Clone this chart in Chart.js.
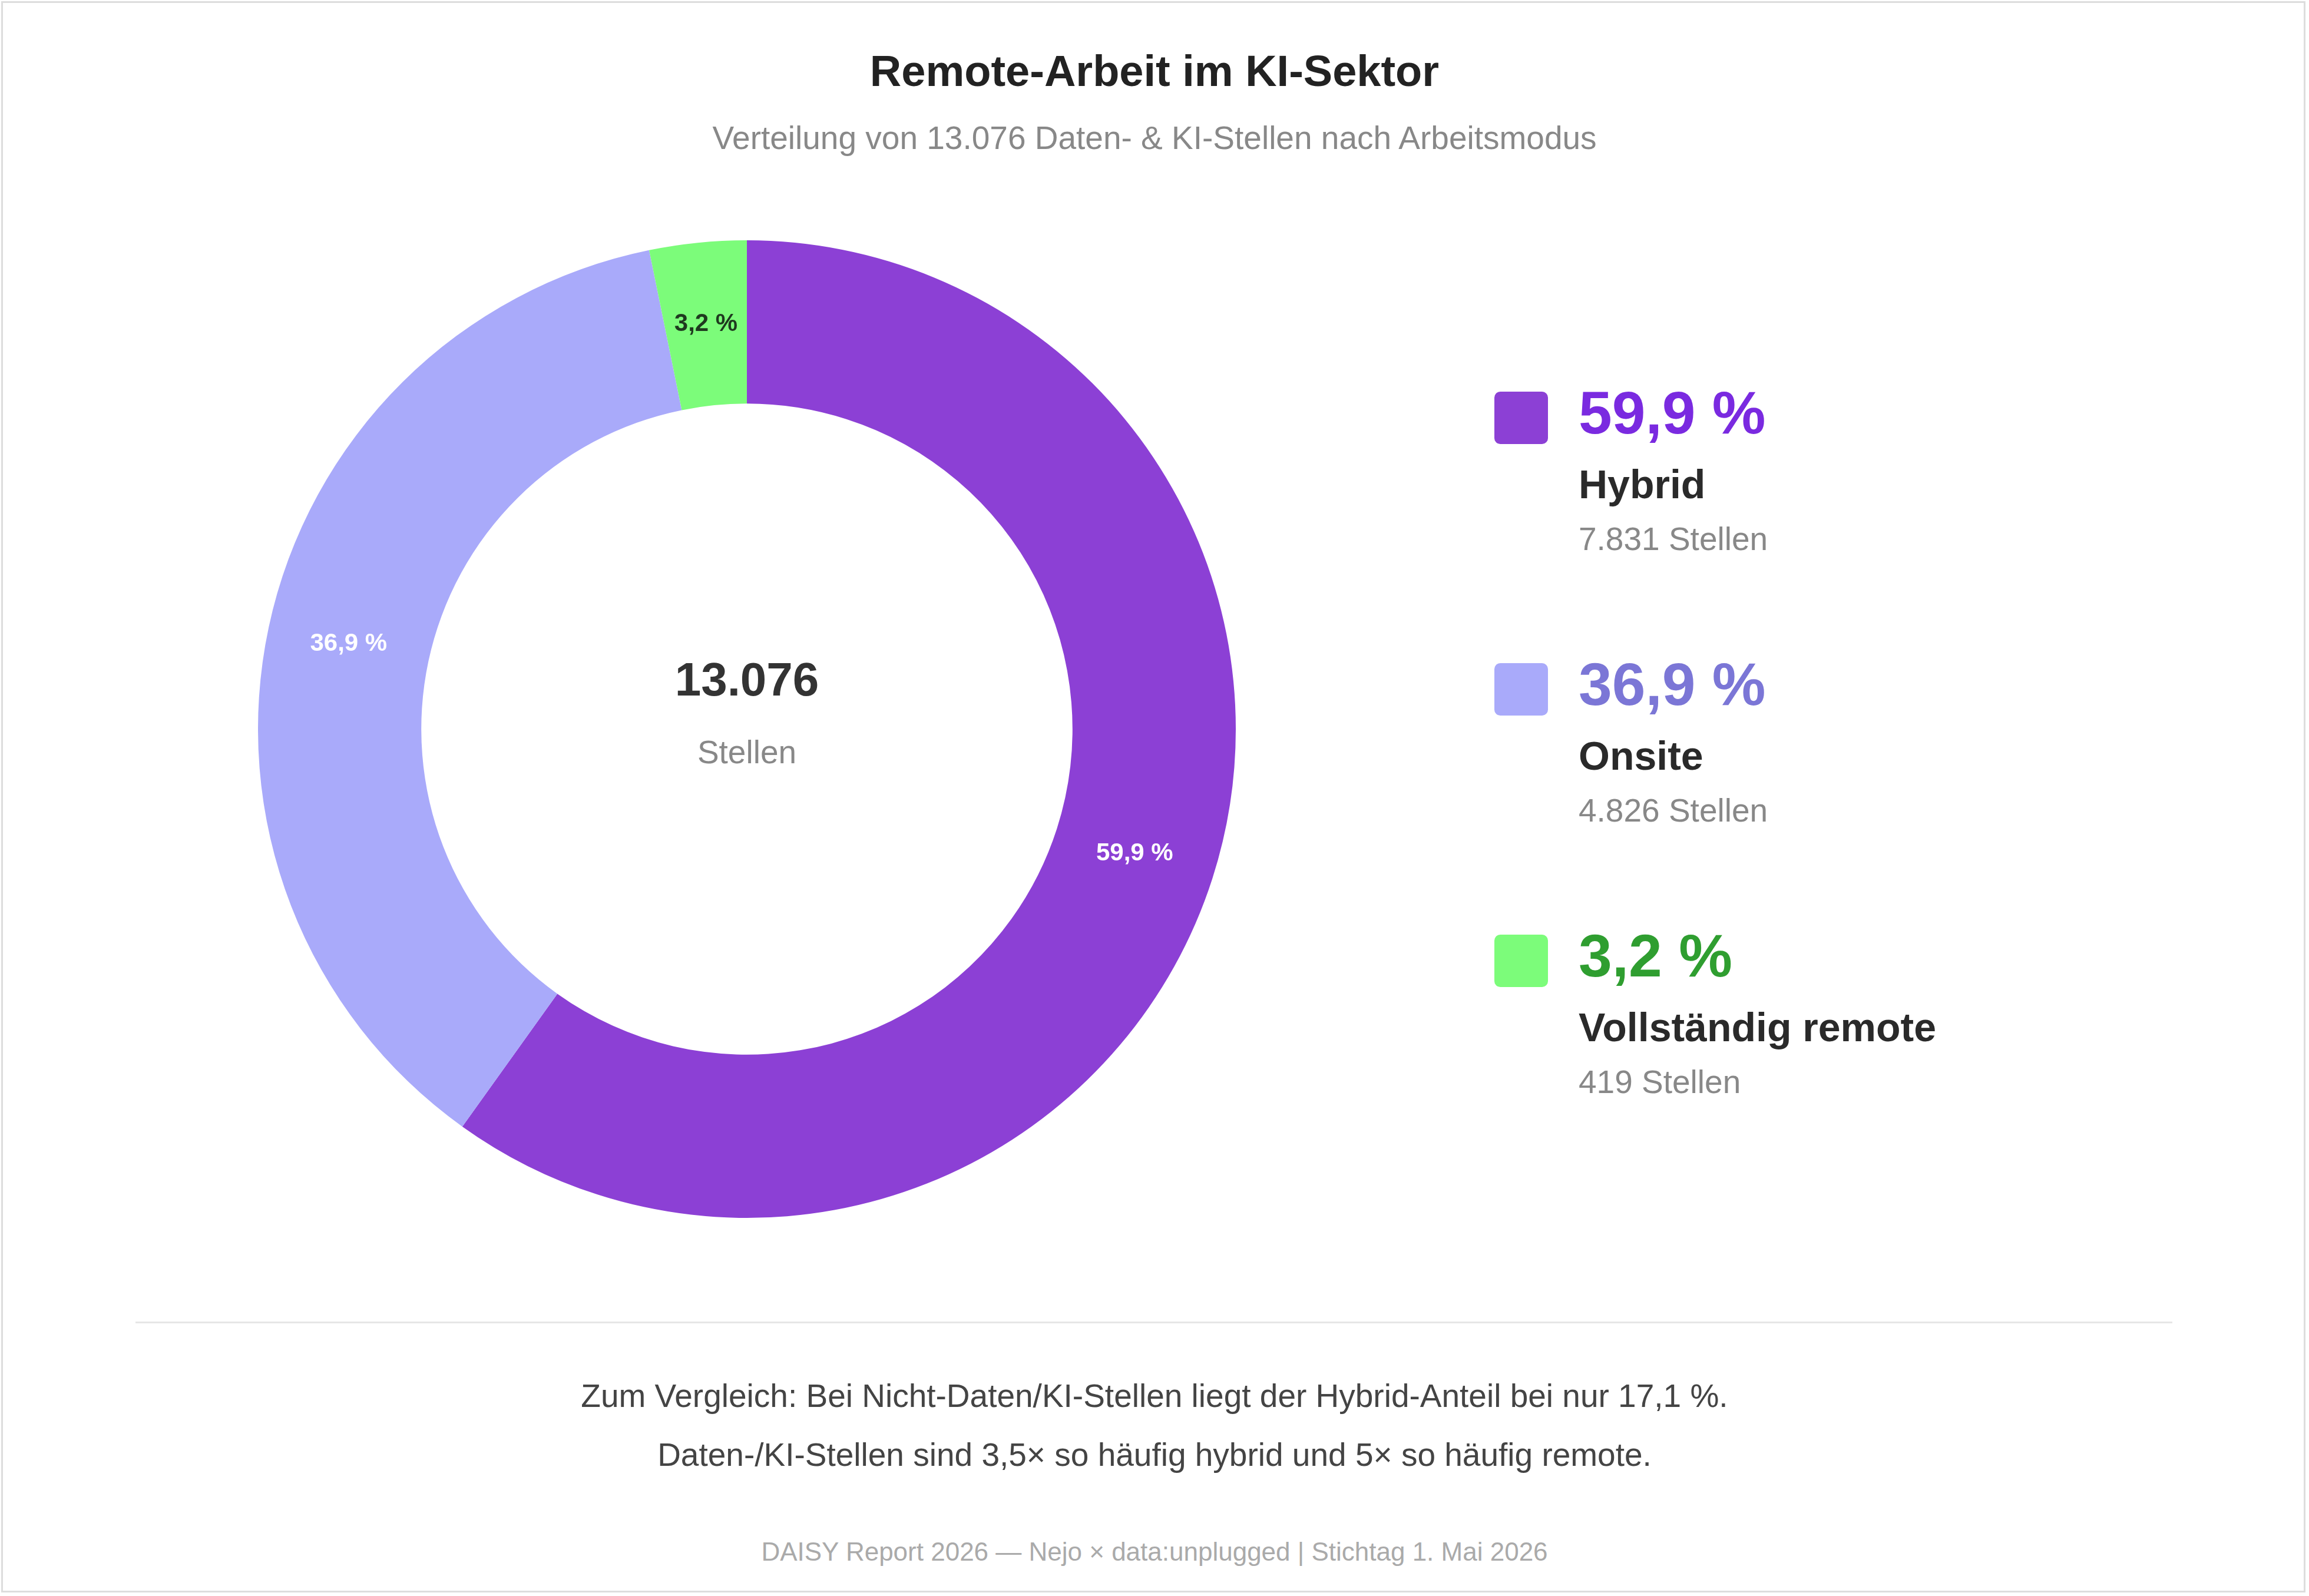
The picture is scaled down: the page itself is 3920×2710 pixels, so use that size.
<!DOCTYPE html>
<html><head><meta charset="utf-8">
<script src="https://cdn.jsdelivr.net/npm/chart.js@4"></script>
<style>
body{margin:0;width:3920px;height:2710px;background:#fff;font-family:"Liberation Sans",Arial,sans-serif;position:relative;overflow:hidden}
#frame{position:absolute;left:2px;top:2px;width:3912px;height:2702px;border:3px solid #ddd;box-sizing:border-box}
.t{position:absolute;white-space:nowrap}
#wrap{position:absolute;left:438px;top:408px;width:1660px;height:1660px}
.sq{position:absolute;width:91px;height:89px;border-radius:10px}
</style></head><body>
<div id="frame"></div>
<div class="t" style="left:0;width:3920px;text-align:center;top:78px;font-size:74px;font-weight:bold;color:#222">Remote-Arbeit im KI-Sektor</div>
<div class="t" style="left:0;width:3920px;text-align:center;top:202px;font-size:55px;color:#888">Verteilung von 13.076 Daten- &amp; KI-Stellen nach Arbeitsmodus</div>
<div id="wrap"><canvas id="c"></canvas></div>
<div class="t" style="left:968px;width:600px;text-align:center;top:1108px;font-size:80px;font-weight:bold;color:#333">13.076</div>
<div class="t" style="left:968px;width:600px;text-align:center;top:1245px;font-size:55px;color:#888">Stellen</div>
<div id="legend"></div>
<div style="position:absolute;left:230px;top:2244px;width:3458px;height:3px;background:#e6e6e6"></div>
<div class="t" style="left:0;width:3920px;text-align:center;top:2338px;font-size:55px;color:#444">Zum Vergleich: Bei Nicht-Daten/KI-Stellen liegt der Hybrid-Anteil bei nur 17,1 %.</div>
<div class="t" style="left:0;width:3920px;text-align:center;top:2438px;font-size:55px;color:#444">Daten-/KI-Stellen sind 3,5× so häufig hybrid und 5× so häufig remote.</div>
<div class="t" style="left:0;width:3920px;text-align:center;top:2610px;font-size:44px;color:#aaa">DAISY Report 2026 — Nejo × data:unplugged | Stichtag 1. Mai 2026</div>
<script>
const categories=["Hybrid","Onsite","Vollständig remote"];
const counts=[7831,4826,419];
const percents=["59,9 %","36,9 %","3,2 %"];
const countLabels=["7.831 Stellen","4.826 Stellen","419 Stellen"];
const colors=["#8c40d5","#a9aafa","#7cfc7a"];
const pctColors=["#7a2ae0","#7b76d6","#2f9e30"];
const labelColors=["#ffffff","#ffffff","#1f3a1f"];

let lg='';
categories.forEach((c,i)=>{const y=665+i*461;
lg+=`<div class="sq" style="left:2537px;top:${y}px;background:${colors[i]}"></div>
<div class="t" style="left:2680px;top:${y-22}px;font-size:102px;font-weight:bold;color:${pctColors[i]}">${percents[i]}</div>
<div class="t" style="left:2680px;top:${y+118}px;font-size:68px;font-weight:bold;color:#2a2a2a">${c}</div>
<div class="t" style="left:2680px;top:${y+218}px;font-size:55px;color:#888">${countLabels[i]}</div>`;});
document.getElementById('legend').innerHTML=lg;

const lbl={id:'lbl',afterDatasetsDraw(ch){const ctx=ch.ctx;const m=ch.getDatasetMeta(0);
ctx.save();ctx.font='bold 42px "Liberation Sans",Arial';ctx.textAlign='center';ctx.textBaseline='middle';
m.data.forEach((a,i)=>{const p=a.tooltipPosition();ctx.fillStyle=labelColors[i];ctx.fillText(percents[i],p.x,p.y);});ctx.restore();}};
new Chart(document.getElementById('c'),{type:'doughnut',
data:{labels:categories,datasets:[{data:counts,backgroundColor:colors,borderWidth:0}]},
options:{responsive:true,maintainAspectRatio:false,devicePixelRatio:1,animation:false,cutout:'66.6%',
layout:{padding:0},plugins:{legend:{display:false},tooltip:{enabled:false}}},plugins:[lbl]});
</script></body></html>
